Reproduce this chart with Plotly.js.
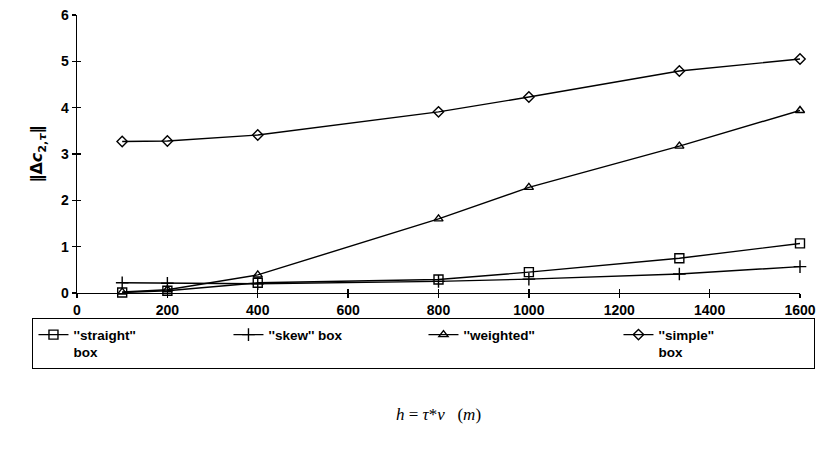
<!DOCTYPE html>
<html>
<head>
<meta charset="utf-8">
<script src="https://cdn.plot.ly/plotly-3.0.1.min.js"></script>
<style>html,body{margin:0;padding:0;background:#fff;}#chart{width:832px;height:452px;}</style>
</head>
<body>
<div id="chart"></div>
<script>
// Data
const hValues = [100, 200, 400, 800, 1000, 1333, 1600];
const straightBox = [0.01, 0.05, 0.22, 0.29, 0.45, 0.75, 1.07];
const skewBox = [0.22, 0.21, 0.20, 0.25, 0.30, 0.41, 0.57];
const weighted = [0.02, 0.07, 0.39, 1.60, 2.28, 3.17, 3.94];
const simpleBox = [3.27, 3.28, 3.41, 3.91, 4.23, 4.79, 5.05];
const seriesNames = ["''straight''<br>box", "''skew'' box", "''weighted''", "''simple''<br>box"];
const xTicks = [0, 200, 400, 600, 800, 1000, 1200, 1400, 1600];
const yTicks = [0, 1, 2, 3, 4, 5, 6];

const series = [straightBox, skewBox, weighted, simpleBox];
const symbols = ['square-open', 'cross-thin-open', 'triangle-up-open', 'diamond-open'];
const sizes = [9, 9, 8, 8];

const traces = series.map((ys, i) => ({
  x: hValues, y: ys, name: seriesNames[i], type: 'scatter', mode: 'lines+markers',
  line: {color: '#000', width: 1.4},
  marker: {symbol: symbols[i], size: sizes[i], color: '#000', line: {color: '#000', width: 1.4}},
  cliponaxis: false
}));
// invisible trace for the overlay axes (inner tick halves)
traces.push({x: [0], y: [0], xaxis: 'x2', yaxis: 'y2', mode: 'markers', marker: {opacity: 0}, showlegend: false, hoverinfo: 'skip'});

const tickFont = {family: 'Liberation Sans, Arial, sans-serif', size: 14, color: '#000', weight: 'bold'};

const layout = {
  width: 832, height: 452,
  margin: {l: 77, r: 32, t: 15, b: 159},
  paper_bgcolor: '#fff', plot_bgcolor: '#fff',
  showlegend: true,
  xaxis: {
    range: [0, 1600], tickvals: xTicks, ticktext: xTicks.map(String),
    showgrid: false, zeroline: false, showline: true, linecolor: '#000', linewidth: 1.3,
    ticks: 'outside', ticklen: 4, tickwidth: 1.3, tickcolor: '#000',
    tickfont: tickFont,
    title: {text: '<i>h</i> = <i>τ</i>*<i>ν</i>   (<i>m</i>)', font: {family: 'Liberation Serif, Times New Roman, serif', size: 17, color: '#000'}, standoff: 91},
    automargin: false
  },
  yaxis: {
    range: [0, 6], tickvals: yTicks, ticktext: yTicks.map(String),
    showgrid: false, zeroline: false, showline: true, linecolor: '#000', linewidth: 1.3,
    ticks: 'outside', ticklen: 4, tickwidth: 1.3, tickcolor: '#000',
    tickfont: tickFont,
    title: {text: '‖Δ<i>c</i><sub>2,<i>τ</i></sub>‖', font: {family: 'DejaVu Sans, sans-serif', size: 16, color: '#000', weight: 'bold'}, standoff: 14},
    automargin: false
  },
  xaxis2: {overlaying: 'x', range: [0, 1600], tickvals: xTicks, showticklabels: false, showgrid: false, zeroline: false,
    showline: false, ticks: 'inside', ticklen: 4, tickwidth: 1.3, tickcolor: '#000', side: 'bottom', anchor: 'y2'},
  yaxis2: {overlaying: 'y', range: [0, 6], tickvals: yTicks, showticklabels: false, showgrid: false, zeroline: false,
    showline: false, ticks: 'inside', ticklen: 4, tickwidth: 1.3, tickcolor: '#000', side: 'left', anchor: 'x2'},
  legend: {
    orientation: 'h', x: -0.062, xanchor: 'left', y: -0.09, yanchor: 'top',
    bordercolor: '#000', borderwidth: 1.3, bgcolor: '#fff',
    font: {family: 'Liberation Sans, Arial, sans-serif', size: 13.5, color: '#000', weight: 'bold'},
    entrywidth: 150, entrywidthmode: 'pixels', valign: 'top', tracegroupgap: 0
  }
};

Plotly.newPlot('chart', traces, layout, {displayModeBar: false, staticPlot: true});
</script>
</body>
</html>
